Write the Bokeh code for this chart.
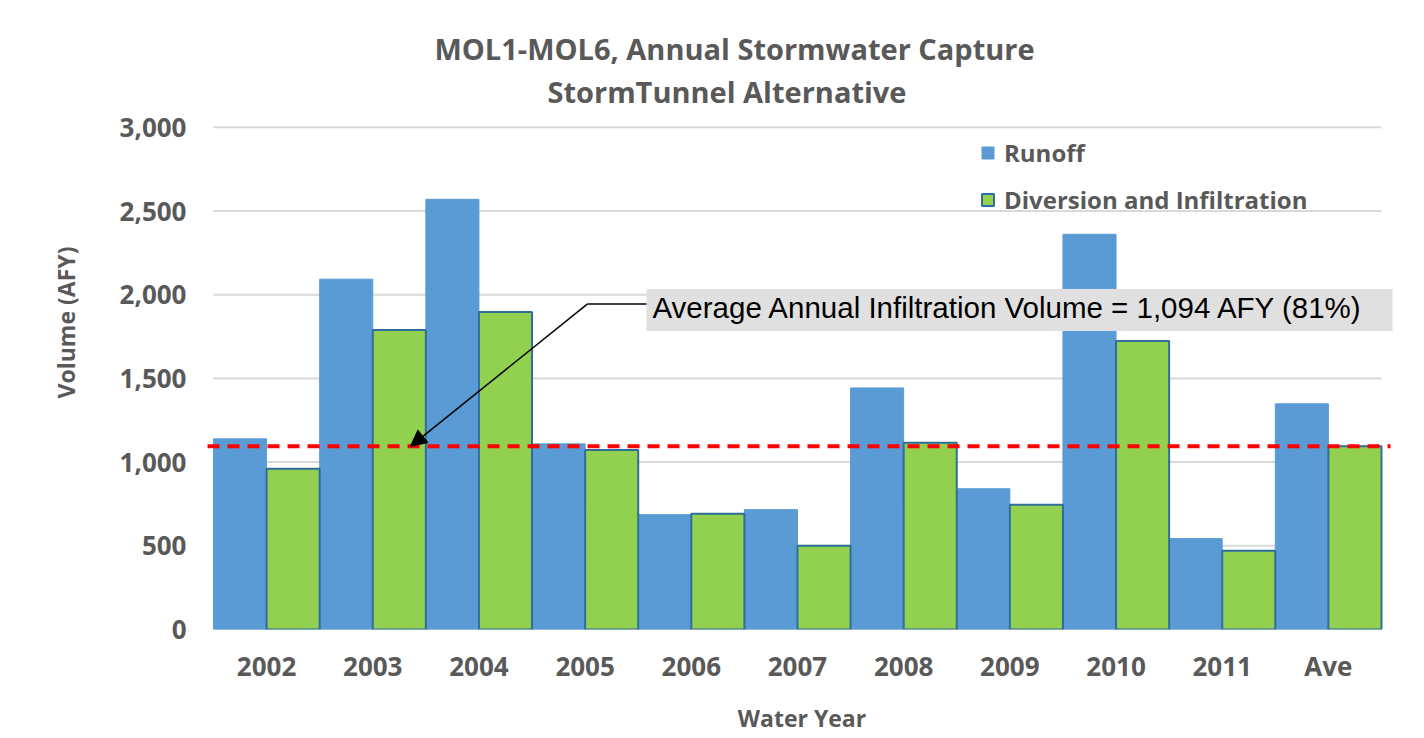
from bokeh.plotting import figure
from bokeh.models import (FixedTicker, NumeralTickFormatter, Label, Arrow, NormalHead,
                          Legend, LegendItem, ColumnDataSource)
from bokeh.embed import file_html
from bokeh.resources import INLINE

# ---- data ----
years = ["2002", "2003", "2004", "2005", "2006", "2007", "2008", "2009", "2010", "2011", "Ave"]
runoff = [1139, 2093, 2570, 1109, 686, 716, 1443, 841, 2361, 543, 1348]
infiltration = [960, 1789, 1896, 1073, 692, 501, 1115, 745, 1723, 471, 1094]
avg_infiltration = 1094
y_ticks = [0, 500, 1000, 1500, 2000, 2500, 3000]

title1 = "MOL1-MOL6, Annual Stormwater Capture"
title2 = "StormTunnel Alternative"
note = "Average Annual Infiltration Volume = 1,094 AFY (81%)"

GRAY = "#595959"
BLUE = "#5B9BD5"
GREEN = "#92D050"
EDGE = "#2F6E9B"
GRID = "#d9d9d9"
FONT = "Open Sans"

n = len(years)
idx = list(range(n))
src = ColumnDataSource(dict(
    xr=[i - 0.25 for i in idx], xg=[i + 0.25 for i in idx],
    runoff=runoff, infil=infiltration))

W, H = 1408, 736
p = figure(width=W, height=H, output_backend="svg", toolbar_location=None,
           x_range=(-0.594, n - 0.5 + 0.179), y_range=(0, 3668),
           min_border_left=203, min_border_top=15, min_border_right=8, min_border_bottom=106)
p.outline_line_color = None
p.background_fill_color = "white"
p.border_fill_color = "white"
p.xgrid.grid_line_color = None
p.ygrid.grid_line_color = None

# gridlines spanning the category area only
p.segment(x0=[-0.5] * len(y_ticks), x1=[n - 0.5] * len(y_ticks), y0=y_ticks, y1=y_ticks,
          line_color=GRID, line_width=2)

rb = p.vbar(x="xr", width=0.5, top="runoff", source=src, fill_color=BLUE,
            line_color=BLUE, line_width=1)
gb = p.vbar(x="xg", width=0.5, top="infil", source=src, fill_color=GREEN,
            line_color=EDGE, line_width=2)

# axes
p.xaxis.ticker = FixedTicker(ticks=idx)
p.xaxis.major_label_overrides = {i: y for i, y in zip(idx, years)}
p.yaxis.ticker = FixedTicker(ticks=y_ticks)
p.yaxis.formatter = NumeralTickFormatter(format="0,0")
for ax in (p.xaxis[0], p.yaxis[0]):
    ax.axis_line_color = None
    ax.major_tick_line_color = None
    ax.minor_tick_line_color = None
    ax.major_tick_out = 0
    ax.major_tick_in = 0
    ax.major_label_text_font = FONT
    ax.major_label_text_font_style = "bold"
    ax.major_label_text_color = GRAY
    ax.major_label_text_font_size = "26px"
    ax.axis_label_text_font = FONT
    ax.axis_label_text_font_style = "bold"
    ax.axis_label_text_color = GRAY
    ax.axis_label_text_font_size = "23px"
p.xaxis.axis_label = "Water Year"
p.yaxis.axis_label = "Volume (AFY)"
p.xaxis.major_label_standoff = 18
p.xaxis.axis_label_standoff = 15
p.yaxis.major_label_standoff = 17
p.yaxis.axis_label_standoff = 35

# average line
p.segment(x0=[-0.556], x1=[n - 0.5 + 0.085], y0=[avg_infiltration], y1=[avg_infiltration],
          line_color="#FF0000", line_width=4, line_dash="12 8")

# callout box and text
p.quad(left=[3.578], right=[10.604], bottom=[1783], top=[2034],
       fill_color="#e0e0e0", line_color=None)
p.add_layout(Label(x=3.634, y=1926, text=note, text_font="Liberation Sans",
                   text_font_size="29.5px", text_color="black", text_baseline="middle",
                   text_align="left"))
p.add_layout(Arrow(end=None, x_start=3.578, y_start=1944, x_end=3.02, y_end=1944,
                   line_color="black", line_width=1.5))
p.add_layout(Arrow(end=NormalHead(size=16, fill_color="black", line_color="black"),
                   x_start=3.02, y_start=1944, x_end=1.355, y_end=avg_infiltration,
                   line_color="black", line_width=1.5))

# titles
for txt, xx, yy in ((title1, 4.407, 3471), (title2, 4.336, 3215)):
    p.add_layout(Label(x=xx, y=yy, text=txt, text_font=FONT, text_font_style="bold",
                       text_font_size="29px", text_color=GRAY, text_align="center",
                       text_baseline="middle"))

legend = Legend(items=[LegendItem(label="Runoff", renderers=[rb]),
                       LegendItem(label="Diversion and Infiltration", renderers=[gb])],
                location=(777, 413), glyph_width=15, glyph_height=15,
                label_text_font=FONT, label_text_font_style="bold",
                label_text_color=GRAY, label_text_font_size="24px",
                label_height=24, spacing=14, background_fill_alpha=0,
                border_line_color=None, padding=0, margin=0, label_standoff=9)
p.add_layout(legend)

open("out.html", "w").write(file_html(p, INLINE))
